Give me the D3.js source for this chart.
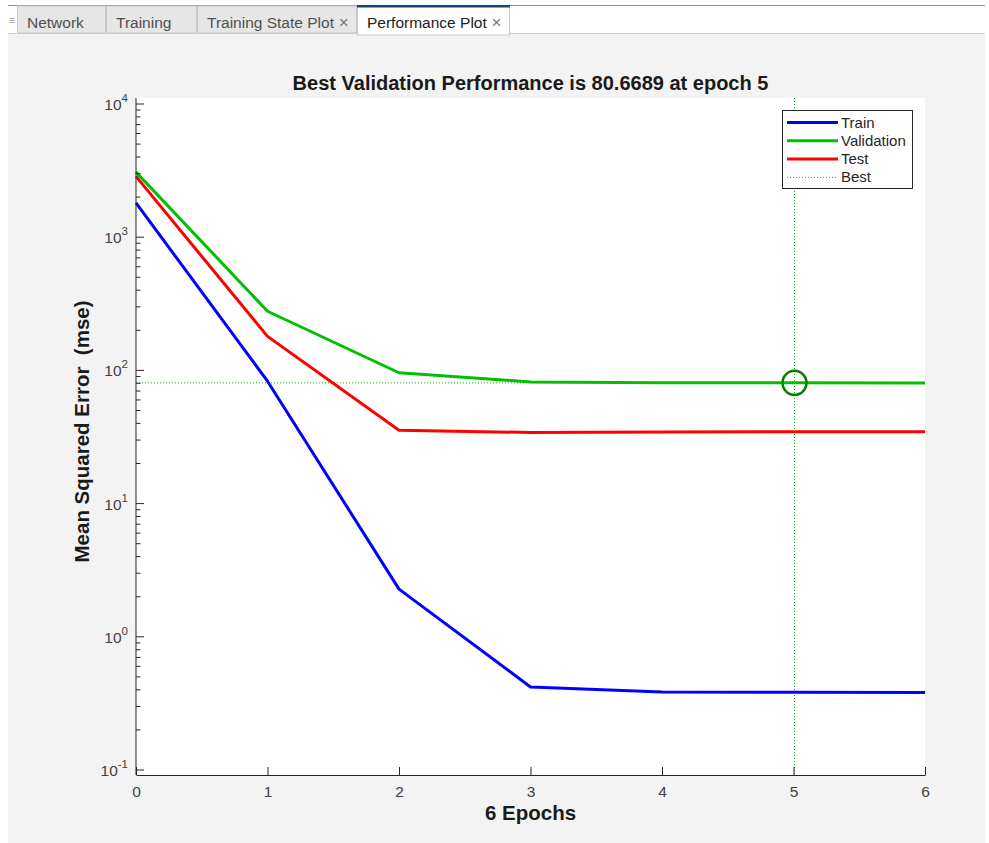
<!DOCTYPE html>
<html>
<head>
<meta charset="utf-8">
<script src="https://cdn.jsdelivr.net/npm/d3@7"></script>
<style>
  html, body { margin: 0; padding: 0; background: #fff; }
  svg { display: block; font-family: "Liberation Sans", Arial, sans-serif; }
</style>
</head>
<body>
<div id="chart"></div>
<script>
// data
const epochs = [0, 1, 2, 3, 4, 5, 6];
const trainPerf = [1810, 83, 2.28, 0.42, 0.385, 0.383, 0.382];
const valPerf = [3080, 278, 96, 82, 80.8, 80.6689, 80.6];
const testPerf = [2860, 180, 35.5, 34.2, 34.5, 34.6, 34.6];
const bestEpoch = 5;
const bestPerf = 80.6689;
const xTicks = [0, 1, 2, 3, 4, 5, 6];
const yTickExp = [-1, 0, 1, 2, 3, 4];
const tabs = ['Network', 'Training', 'Training State Plot', 'Performance Plot'];
const legendNames = ['Train', 'Validation', 'Test', 'Best'];

const W = 989, H = 843;
const svg = d3.select('#chart').append('svg').attr('width', W).attr('height', H);

// window background
svg.append('rect').attr('width', W).attr('height', H).attr('fill', '#fff');
svg.append('rect').attr('x', 8).attr('y', 34).attr('width', 977).attr('height', H - 34).attr('fill', '#f3f3f3');

// tab strip
const tabX = [17, 106, 197, 357, 510];
svg.append('rect').attr('x', 8).attr('y', 5).attr('width', 977).attr('height', 29)
  .attr('fill', '#fff');
svg.append('line').attr('x1', 8).attr('x2', 985).attr('y1', 5.5).attr('y2', 5.5)
  .attr('stroke', '#8c8c8c');
svg.append('line').attr('x1', 8).attr('x2', 985).attr('y1', 33.5).attr('y2', 33.5)
  .attr('stroke', '#cfcfcf');
svg.append('text').attr('x', 12).attr('y', 24).attr('font-size', 11).attr('fill', '#999')
  .attr('text-anchor', 'middle').text('≡');
tabs.forEach((t, i) => {
  const active = i === tabs.length - 1;
  const g = svg.append('g');
  g.append('rect').attr('x', tabX[i] + 0.5).attr('y', 6).attr('width', tabX[i + 1] - tabX[i] - 1)
    .attr('height', active ? 29 : 27)
    .attr('fill', active ? '#fff' : '#e6e6e6')
    .attr('stroke', '#c8c8c8');
  if (active) {
    g.append('rect').attr('x', tabX[i]).attr('y', 5).attr('width', tabX[i + 1] - tabX[i])
      .attr('height', 2.5).attr('fill', '#0b4a85');
  }
  const txt = g.append('text')
    .attr('x', tabX[i] + 10).attr('y', 28)
    .attr('font-size', 15.5).attr('fill', active ? '#222' : '#505050')
    .text(t);
  if (i >= 2) {
    txt.append('tspan').attr('fill', '#777').attr('font-size', 17).text(' \u00d7');
  }
});

// plot geometry
const plot = { left: 136, right: 925, top: 98, bottom: 775 };
const x = d3.scaleLinear().domain([0, 6]).range([plot.left, plot.right]);
const y = d3.scaleLog().domain([Math.pow(10, -1.0375), Math.pow(10, 4.045)])
  .range([plot.bottom, plot.top]);

svg.append('rect').attr('x', plot.left).attr('y', plot.top)
  .attr('width', plot.right - plot.left).attr('height', plot.bottom - plot.top)
  .attr('fill', '#fff');

const axisColor = '#262626';
const bestColor = '#1fae1f';

// best markers
svg.append('line')
  .attr('x1', x(0)).attr('x2', x(6)).attr('y1', y(bestPerf)).attr('y2', y(bestPerf))
  .attr('stroke', bestColor).attr('stroke-width', 1).attr('stroke-dasharray', '1,2');
svg.append('line')
  .attr('x1', x(bestEpoch) + 1).attr('x2', x(bestEpoch) + 1).attr('y1', plot.top).attr('y2', plot.bottom)
  .attr('stroke', bestColor).attr('stroke-width', 1).attr('stroke-dasharray', '1,2');

// series
const series = [
  { name: 'Train', values: trainPerf, color: '#0000ff' },
  { name: 'Validation', values: valPerf, color: '#00c000' },
  { name: 'Test', values: testPerf, color: '#ff0000' },
];
const line = d3.line().x((d, i) => x(epochs[i])).y((d) => y(d));
series.forEach((s) => {
  svg.append('path').attr('d', line(s.values)).attr('fill', 'none')
    .attr('stroke', s.color).attr('stroke-width', 3).attr('stroke-linejoin', 'round');
});

svg.append('circle').attr('cx', x(bestEpoch) + 1).attr('cy', y(bestPerf)).attr('r', 12)
  .attr('fill', 'none').attr('stroke', '#008000').attr('stroke-width', 2.5);

// x axis
const xAxis = svg.append('g').attr('transform', `translate(0,${plot.bottom})`)
  .call(d3.axisBottom(x).tickValues(xTicks).tickFormat(d3.format('d')).tickSizeInner(-8).tickSizeOuter(0).tickPadding(11));
xAxis.select('.domain').attr('stroke', axisColor);
xAxis.selectAll('.tick line').attr('stroke', axisColor);
xAxis.selectAll('.tick text').attr('font-size', 15.5).attr('fill', '#404040')
  .attr('font-family', '"Liberation Sans", Arial, sans-serif');

// y axis (log, with minor ticks)
const yAxis = svg.append('g').attr('transform', `translate(${plot.left},0)`);
yAxis.append('line').attr('x1', 0).attr('x2', 0).attr('y1', plot.top).attr('y2', plot.bottom)
  .attr('stroke', axisColor);
yTickExp.forEach((e) => {
  const yy = y(Math.pow(10, e));
  yAxis.append('line').attr('x1', 0).attr('x2', 8).attr('y1', yy).attr('y2', yy).attr('stroke', axisColor);
  const t = yAxis.append('text').attr('x', -8).attr('y', yy + 6).attr('text-anchor', 'end')
    .attr('font-size', 15.5).attr('fill', '#404040');
  t.append('tspan').text('10');
  t.append('tspan').attr('dy', -8).attr('font-size', 11.5).text(e);
  if (e < 4) {
    for (let m = 2; m <= 9; m += 1) {
      const ym = y(m * Math.pow(10, e));
      yAxis.append('line').attr('x1', 0).attr('x2', 4.5).attr('y1', ym).attr('y2', ym)
        .attr('stroke', axisColor);
    }
  }
});
// minor tick just below 10^-1
const yLow = y(9 * Math.pow(10, -2));
if (yLow <= plot.bottom) {
  yAxis.append('line').attr('x1', 0).attr('x2', 4.5).attr('y1', yLow).attr('y2', yLow).attr('stroke', axisColor);
}

// title and axis labels
svg.append('text').attr('x', (plot.left + plot.right) / 2).attr('y', 90)
  .attr('text-anchor', 'middle').attr('font-size', 20).attr('font-weight', 'bold').attr('fill', '#1a1a1a')
  .text(`Best Validation Performance is ${bestPerf} at epoch ${bestEpoch}`);
svg.append('text').attr('x', (plot.left + plot.right) / 2).attr('y', 820)
  .attr('text-anchor', 'middle').attr('font-size', 20.5).attr('font-weight', 'bold').attr('fill', '#1a1a1a')
  .text(`${epochs.length - 1} Epochs`);
svg.append('text')
  .attr('transform', `translate(89,${(plot.top + plot.bottom) / 2 - 5}) rotate(-90)`)
  .attr('text-anchor', 'middle').attr('font-size', 20.5).attr('font-weight', 'bold').attr('fill', '#1a1a1a')
  .attr('xml:space', 'preserve')
  .text('Mean Squared Error  (mse)');

// legend
const leg = svg.append('g').attr('transform', 'translate(782,110)');
leg.append('rect').attr('x', 0.5).attr('y', 0.5).attr('width', 130).attr('height', 78)
  .attr('fill', '#fff').attr('stroke', axisColor);
const legColors = ['#0000ff', '#00c000', '#ff0000', bestColor];
legendNames.forEach((n, i) => {
  const ly = 12.5 + i * 18.3;
  const isBest = n === 'Best';
  leg.append('line').attr('x1', 5).attr('x2', 56).attr('y1', ly).attr('y2', ly)
    .attr('stroke', legColors[i]).attr('stroke-width', isBest ? 1 : 3)
    .attr('stroke-dasharray', isBest ? '1,2' : null);
  leg.append('text').attr('x', 59).attr('y', ly + 5).attr('font-size', 15).attr('fill', '#262626').text(n);
});
</script>
</body>
</html>
